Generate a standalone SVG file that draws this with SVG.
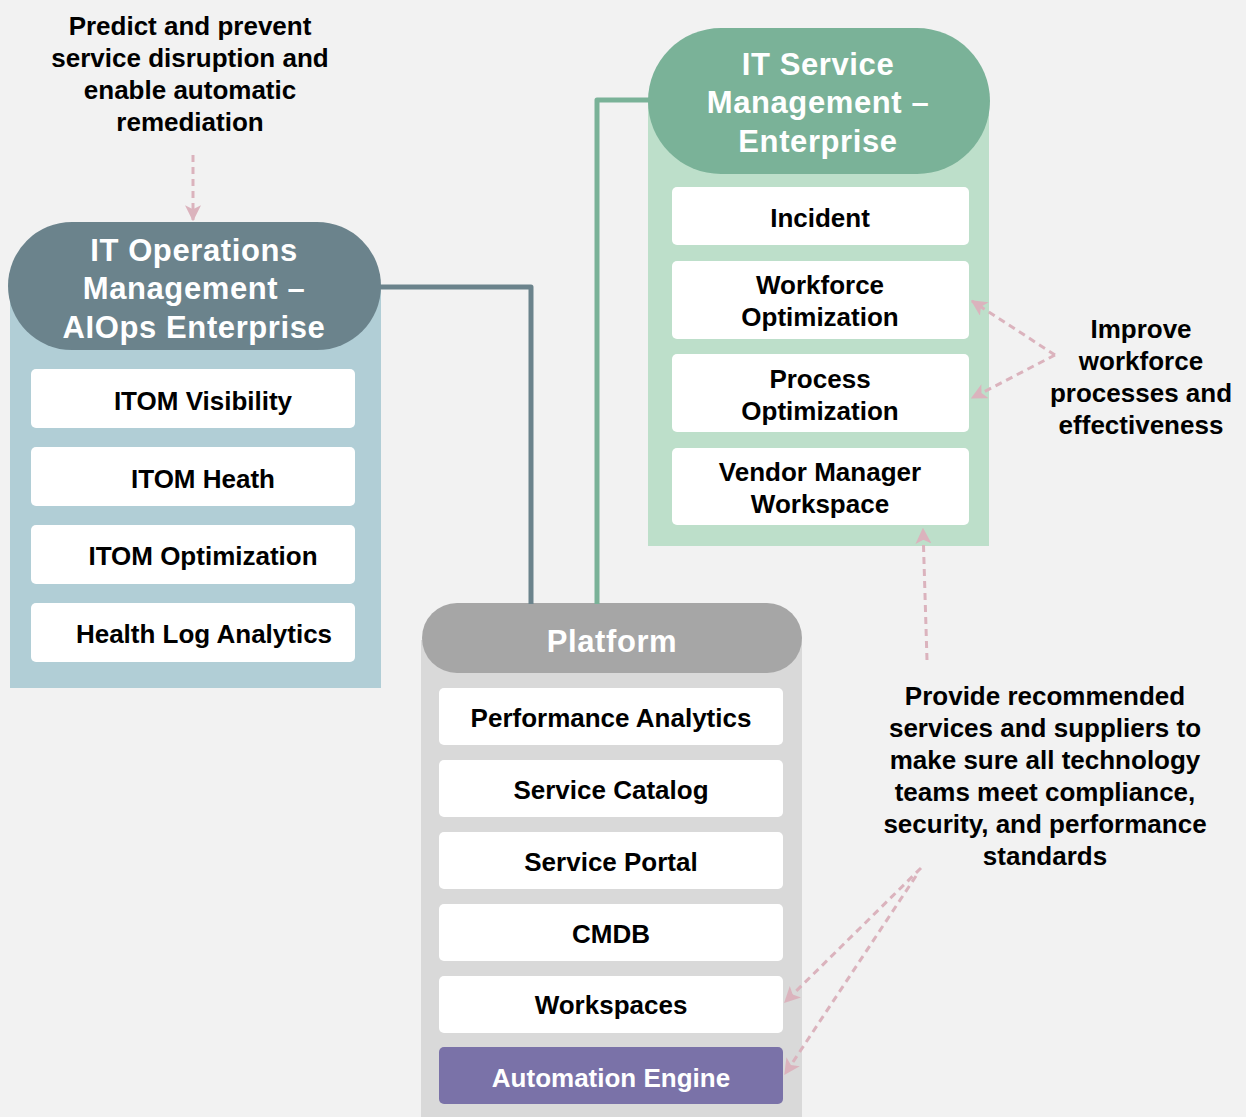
<svg xmlns="http://www.w3.org/2000/svg" width="1246" height="1117" viewBox="0 0 1246 1117">
<defs>
<marker id="ah" viewBox="0 0 12 12" refX="11" refY="6" markerWidth="16" markerHeight="16" markerUnits="userSpaceOnUse" orient="auto">
<path d="M0,0 L12,6 L0,12 L3,6 Z" fill="#dbb3bd"/>
</marker>
<style>
text{font-family:"Liberation Sans",Arial,sans-serif;font-weight:bold;text-anchor:middle;dominant-baseline:central}
.hd{fill:#fff;font-size:31px;letter-spacing:0.6px}
.it{fill:#000;font-size:26px}
.an{fill:#000;font-size:26px}
.box{fill:#fff}
.dash{fill:none;stroke:#dbb3bd;stroke-width:3;stroke-dasharray:7 5;marker-end:url(#ah)}
</style>
</defs>
<rect width="1246" height="1117" fill="#f2f2f2"/>
<g id="itom">
<rect x="10" y="290" width="371" height="398" fill="#b1ced6"/>
<rect x="8" y="222" width="373" height="128" rx="64" fill="#6b838c"/>
<text class="hd" x="194" y="250">IT Operations</text>
<text class="hd" x="194" y="288">Management –</text>
<text class="hd" x="194" y="327">AIOps Enterprise</text>
<rect class="box" x="31" y="369" width="324" height="59" rx="5"/>
<text class="it" x="203" y="401">ITOM Visibility</text>
<rect class="box" x="31" y="447" width="324" height="59" rx="5"/>
<text class="it" x="203" y="479">ITOM Heath</text>
<rect class="box" x="31" y="525" width="324" height="59" rx="5"/>
<text class="it" x="203" y="556">ITOM Optimization</text>
<rect class="box" x="31" y="603" width="324" height="59" rx="5"/>
<text class="it" x="204" y="634">Health Log Analytics</text>
</g>
<g id="itsm">
<rect x="648" y="100" width="341" height="446" fill="#bddfca"/>
<rect x="648" y="28" width="342" height="146" rx="73" fill="#7ab298"/>
<text class="hd" x="818" y="64">IT Service</text>
<text class="hd" x="818" y="102">Management –</text>
<text class="hd" x="818" y="141">Enterprise</text>
<rect class="box" x="672" y="187" width="297" height="58" rx="5"/>
<text class="it" x="820" y="218">Incident</text>
<rect class="box" x="672" y="261" width="297" height="78" rx="5"/>
<text class="it" x="820" y="285">Workforce</text>
<text class="it" x="820" y="317">Optimization</text>
<rect class="box" x="672" y="354" width="297" height="78" rx="5"/>
<text class="it" x="820" y="379">Process</text>
<text class="it" x="820" y="411">Optimization</text>
<rect class="box" x="672" y="448" width="297" height="77" rx="5"/>
<text class="it" x="820" y="472">Vendor Manager</text>
<text class="it" x="820" y="504">Workspace</text>
</g>
<g id="platform">
<rect x="421" y="640" width="381" height="477" fill="#d9d9d9"/>
<rect x="422" y="603" width="380" height="70" rx="35" fill="#a6a6a6"/>
<text class="hd" x="612" y="641">Platform</text>
<rect class="box" x="439" y="688" width="344" height="57" rx="5"/>
<text class="it" x="611" y="718">Performance Analytics</text>
<rect class="box" x="439" y="760" width="344" height="57" rx="5"/>
<text class="it" x="611" y="790">Service Catalog</text>
<rect class="box" x="439" y="832" width="344" height="57" rx="5"/>
<text class="it" x="611" y="862">Service Portal</text>
<rect class="box" x="439" y="904" width="344" height="57" rx="5"/>
<text class="it" x="611" y="934">CMDB</text>
<rect class="box" x="439" y="976" width="344" height="57" rx="5"/>
<text class="it" x="611" y="1005">Workspaces</text>
<rect x="439" y="1047" width="344" height="57" rx="5" fill="#7a72a8"/>
<text class="it" x="611" y="1078" style="fill:#fff">Automation Engine</text>
</g>
<g id="note-predict">
<text class="an" x="190" y="26">Predict and prevent</text>
<text class="an" x="190" y="58">service disruption and</text>
<text class="an" x="190" y="90">enable automatic</text>
<text class="an" x="190" y="122">remediation</text>
</g>
<g id="note-improve">
<text class="an" x="1141" y="329">Improve</text>
<text class="an" x="1141" y="361">workforce</text>
<text class="an" x="1141" y="393">processes and</text>
<text class="an" x="1141" y="425">effectiveness</text>
</g>
<g id="note-provide">
<text class="an" x="1045" y="696">Provide recommended</text>
<text class="an" x="1045" y="728">services and suppliers to</text>
<text class="an" x="1045" y="760">make sure all technology</text>
<text class="an" x="1045" y="792">teams meet compliance,</text>
<text class="an" x="1045" y="824">security, and performance</text>
<text class="an" x="1045" y="856">standards</text>
</g>
<g id="connectors">
<polyline points="380,287 531,287 531,604" fill="none" stroke="#6b838c" stroke-width="5" stroke-linejoin="round"/>
<polyline points="650,100 597,100 597,604" fill="none" stroke="#7ab298" stroke-width="5" stroke-linejoin="round"/>
<line class="dash" x1="193" y1="155" x2="193" y2="220"/>
<line class="dash" x1="1055" y1="355" x2="972" y2="301"/>
<line class="dash" x1="1055" y1="355" x2="972" y2="398"/>
<line class="dash" x1="927" y1="660" x2="923" y2="529"/>
<line class="dash" x1="921" y1="868" x2="785" y2="1002"/>
<line class="dash" x1="916" y1="876" x2="785" y2="1074"/>
</g>
</svg>
